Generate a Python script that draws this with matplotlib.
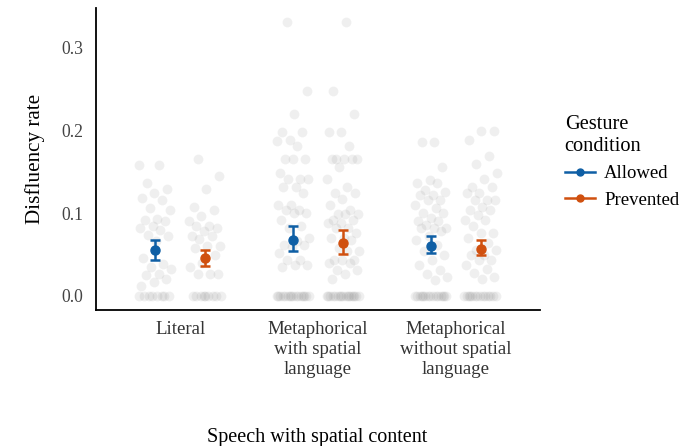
import numpy as np
import matplotlib.pyplot as plt
from matplotlib.lines import Line2D

plt.rcParams['font.family'] = ['Liberation Serif', 'DejaVu Serif']

# categories and conditions
categories = ['Literal', 'Metaphorical\nwith spatial\nlanguage', 'Metaphorical\nwithout spatial\nlanguage']
conditions = ['Allowed', 'Prevented']
colors = ['#0F5FA5', '#D0500F']

# raw participant disfluency rates
lit_allowed = [0.158, 0.158, 0.137, 0.129, 0.124, 0.118, 0.116, 0.106, 0.104, 0.093,
               0.092, 0.090, 0.084, 0.082, 0.080, 0.074, 0.072, 0.066, 0.046, 0.039,
               0.035, 0.032, 0.027, 0.025, 0.020, 0.017, 0.012,
               0, 0, 0, 0, 0, 0, 0, 0]
lit_prevented = [0.166, 0.145, 0.129, 0.107, 0.104, 0.096, 0.090, 0.084, 0.084, 0.082,
                 0.079, 0.072, 0.072, 0.069, 0.060, 0.060, 0.058, 0.050, 0.040, 0.035,
                 0.027, 0.027, 0.027,
                 0, 0, 0, 0, 0, 0, 0, 0, 0]
met_allowed = [0.331, 0.248, 0.220, 0.198, 0.198, 0.189, 0.187, 0.181, 0.165, 0.165,
               0.165, 0.149, 0.141, 0.141, 0.141, 0.132, 0.132, 0.124, 0.110, 0.110,
               0.104, 0.104, 0.100, 0.100, 0.092, 0.084, 0.082, 0.070, 0.066, 0.062,
               0.062, 0.059, 0.052, 0.044, 0.044, 0.037, 0.037, 0.035,
               0, 0, 0, 0, 0, 0, 0, 0, 0, 0, 0, 0, 0, 0, 0, 0]
met_prevented = [0.331, 0.248, 0.220, 0.198, 0.198, 0.181, 0.165, 0.165, 0.165, 0.165,
                 0.165, 0.156, 0.141, 0.132, 0.124, 0.124, 0.117, 0.110, 0.104, 0.099,
                 0.099, 0.099, 0.092, 0.092, 0.088, 0.088, 0.082, 0.082, 0.076, 0.070,
                 0.070, 0.068, 0.058, 0.054, 0.054, 0.044, 0.044, 0.044, 0.040, 0.040,
                 0.031, 0.031, 0.027, 0.021,
                 0, 0, 0, 0, 0, 0, 0, 0, 0, 0, 0, 0, 0, 0, 0, 0, 0]
wo_allowed = [0.186, 0.186, 0.156, 0.140, 0.136, 0.136, 0.128, 0.126, 0.122, 0.122,
              0.116, 0.116, 0.110, 0.106, 0.100, 0.100, 0.094, 0.090, 0.090, 0.086,
              0.082, 0.082, 0.082, 0.078, 0.072, 0.068, 0.062, 0.054, 0.050, 0.044,
              0.037, 0.031, 0.027, 0.023, 0.019,
              0, 0, 0, 0, 0, 0, 0, 0, 0, 0, 0, 0, 0, 0, 0]
wo_prevented = [0.199, 0.199, 0.189, 0.169, 0.160, 0.148, 0.141, 0.132, 0.132, 0.124,
                0.124, 0.116, 0.116, 0.116, 0.108, 0.104, 0.104, 0.098, 0.092, 0.092,
                0.084, 0.076, 0.076, 0.070, 0.064, 0.056, 0.056, 0.050, 0.050, 0.044,
                0.044, 0.037, 0.033, 0.028, 0.023, 0.020,
                0, 0, 0, 0, 0, 0, 0, 0, 0, 0, 0, 0, 0, 0]

raw = [[lit_allowed, lit_prevented], [met_allowed, met_prevented], [wo_allowed, wo_prevented]]

# means and 95% CI bounds
means = [[0.055, 0.046], [0.068, 0.064], [0.060, 0.057]]
ci_low = [[0.043, 0.036], [0.054, 0.051], [0.052, 0.050]]
ci_high = [[0.068, 0.056], [0.085, 0.080], [0.072, 0.068]]

fig = plt.figure(figsize=(6.83, 4.46), dpi=100)
ax = fig.add_axes([0.1406, 0.305, 0.65, 0.677])

dodge = 0.18
jit = 0.12
golden = (np.sqrt(5) - 1) / 2
for i, cat in enumerate(categories):
    for j, cond in enumerate(conditions):
        vals = np.array(raw[i][j])
        xc = i + 1 + (j - 0.5) * 2 * dodge
        # deterministic spread for jitter
        k = np.arange(len(vals))
        offs = ((k * golden + 0.3 * (i + j)) % 1.0 - 0.5) * 2 * jit
        ax.scatter(xc + offs, vals, s=50, color='#808080', alpha=0.12,
                   linewidths=0, zorder=1)
        m = means[i][j]
        ax.errorbar(xc, m, yerr=[[m - ci_low[i][j]], [ci_high[i][j] - m]],
                    fmt='o', color=colors[j], ms=6.5, elinewidth=1.8,
                    capsize=3.5, capthick=1.8, zorder=3)

ax.set_xlim(0.39, 3.61)
ax.set_ylim(-0.017, 0.348)
ax.set_xticks([1, 2, 3])
ax.set_xticklabels(categories, fontsize=13.6, color='#333333', linespacing=1.22)
ax.set_yticks([0, 0.1, 0.2, 0.3])
ax.set_yticklabels(['0.0', '0.1', '0.2', '0.3'], fontsize=12.7, color='#444444')
ax.tick_params(axis='x', length=0, pad=8)
ax.tick_params(axis='y', length=0, pad=9)
ax.spines['top'].set_visible(False)
ax.spines['right'].set_visible(False)
ax.spines['left'].set_linewidth(1.3)
ax.spines['bottom'].set_linewidth(1.3)
ax.set_ylabel('Disfluency rate', fontsize=15.2, labelpad=12)
fig.text(0.465, 0.02, 'Speech with spatial content', fontsize=14.5, ha='center', va='center')

handles = [Line2D([0], [0], color=c, marker='o', ms=5, lw=1.8) for c in colors]
leg = fig.legend(handles, conditions, title='Gesture\ncondition', loc='upper left',
                 bbox_to_anchor=(0.802, 0.78), frameon=False, fontsize=13.5,
                 title_fontsize=14.7, handlelength=1.6, handletextpad=0.5,
                 labelspacing=0.5)
leg._legend_box.align = 'left'

fig.savefig('out.png', dpi=100)
